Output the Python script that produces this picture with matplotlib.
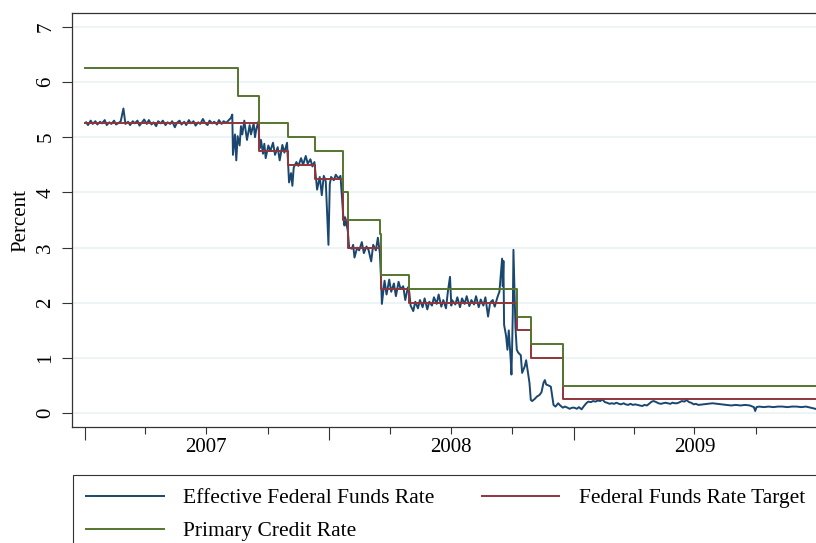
import matplotlib
matplotlib.use('Agg')
import matplotlib.pyplot as plt
from matplotlib.patches import Rectangle
import pandas as pd

plt.rcParams['font.family'] = ['Liberation Serif', 'DejaVu Serif']

# Federal funds rate target (upper bound of the range after Dec 2008)
target_dates = ['2007-01-01', '2007-09-18', '2007-10-31', '2007-12-11', '2008-01-22', '2008-01-30',
                '2008-03-18', '2008-04-30', '2008-10-08', '2008-10-29', '2008-12-16']
target_rate = [5.25, 4.75, 4.50, 4.25, 3.50, 3.00, 2.25, 2.00, 1.50, 1.00, 0.25]

# Primary credit (discount window) rate
pcr_dates = ['2007-01-01', '2007-08-17', '2007-09-18', '2007-10-31', '2007-12-11', '2008-01-22',
             '2008-01-30', '2008-03-17', '2008-03-18', '2008-04-30', '2008-10-08', '2008-10-29',
             '2008-12-16']
pcr_rate = [6.25, 5.75, 5.25, 5.00, 4.75, 4.00, 3.50, 3.25, 2.50, 2.25, 1.75, 1.25, 0.50]

end_date = '2009-12-31'

# Effective federal funds rate (day of month + value for each month)
eff_months = ['2007-01', '2007-02', '2007-03', '2007-04', '2007-05', '2007-06',
              '2007-07', '2007-08', '2007-09', '2007-10', '2007-11', '2007-12',
              '2008-01', '2008-02', '2008-03', '2008-04', '2008-05', '2008-06',
              '2008-07', '2008-08', '2008-09', '2008-10', '2008-11', '2008-12',
              '2009-01', '2009-02', '2009-03', '2009-04', '2009-05', '2009-06',
              '2009-07', '2009-08', '2009-09', '2009-10', '2009-11', '2009-12']
eff_days = [
    [2, 5, 9, 12, 16, 19, 23, 26, 30],
    [2, 6, 9, 13, 16, 20, 23, 27],
    [2, 6, 9, 13, 16, 20, 23, 27, 30],
    [3, 6, 10, 13, 17, 20, 24, 27],
    [1, 4, 8, 11, 15, 18, 22, 25, 29],
    [1, 5, 8, 12, 15, 19, 22, 26, 29],
    [3, 6, 10, 13, 17, 20, 24, 27, 31],
    [3, 7, 9, 10, 13, 15, 17, 20, 22, 24, 27, 29, 31],
    [4, 6, 10, 12, 14, 17, 19, 21, 24, 26, 28],
    [2, 5, 9, 12, 16, 19, 23, 26, 30],
    [1, 2, 5, 7, 9, 13, 16, 20, 23, 27, 30],
    [4, 7, 10, 12, 14, 18, 21, 24, 27, 31],
    [2, 4, 8, 11, 15, 18, 22, 24, 25, 29, 31],
    [4, 6, 8, 12, 15, 19, 22, 26, 29],
    [4, 7, 11, 14, 17, 19, 20, 24, 27, 31],
    [3, 7, 10, 14, 17, 21, 24, 28, 30],
    [2, 6, 9, 13, 16, 20, 23, 27, 30],
    [3, 6, 10, 13, 17, 20, 24, 27, 30],
    [2, 3, 8, 11, 15, 18, 22, 25, 29],
    [1, 5, 8, 12, 15, 19, 22, 26, 29],
    [2, 5, 9, 12, 15, 16, 17, 18, 19, 22, 24, 26, 29, 30],
    [1, 2, 3, 6, 8, 10, 14, 16, 20, 22, 24, 27, 29, 31],
    [4, 7, 11, 14, 17, 19, 21, 25, 28],
    [2, 5, 9, 12, 16, 19, 23, 26, 30],
    [2, 6, 9, 13, 16, 20, 23, 27, 30],
    [3, 6, 10, 13, 17, 20, 24, 27],
    [3, 6, 10, 13, 17, 20, 24, 27, 31],
    [3, 7, 10, 14, 17, 21, 24, 28],
    [1, 5, 8, 12, 15, 19, 22, 26, 29],
    [2, 5, 9, 12, 16, 19, 23, 26, 30],
    [3, 7, 14, 21, 28],
    [4, 11, 18, 25],
    [1, 8, 15, 22, 28, 30],
    [2, 6, 13, 20, 27],
    [3, 10, 17, 24],
    [1, 8, 15, 22, 29, 31],
]
eff_rate = [
    [5.27, 5.22, 5.30, 5.24, 5.29, 5.23, 5.28, 5.25, 5.31],
    [5.22, 5.27, 5.24, 5.30, 5.23, 5.26, 5.29, 5.52],
    [5.24, 5.28, 5.22, 5.29, 5.25, 5.30, 5.21, 5.27, 5.32],
    [5.24, 5.31, 5.23, 5.27, 5.20, 5.29, 5.25, 5.30],
    [5.22, 5.27, 5.24, 5.29, 5.18, 5.26, 5.30, 5.23, 5.28],
    [5.22, 5.31, 5.25, 5.29, 5.21, 5.27, 5.24, 5.33, 5.26],
    [5.22, 5.30, 5.25, 5.28, 5.23, 5.31, 5.24, 5.29, 5.26],
    [5.30, 5.35, 5.41, 4.68, 5.05, 4.58, 5.02, 4.85, 5.20, 5.05, 5.30, 5.12, 4.95],
    [5.22, 5.05, 5.25, 5.00, 5.15, 5.28, 4.80, 4.95, 4.70, 4.88, 4.62],
    [4.85, 4.75, 4.90, 4.68, 4.82, 4.58, 4.86, 4.72, 4.90],
    [4.40, 4.18, 4.35, 4.12, 4.45, 4.55, 4.48, 4.62, 4.50, 4.66, 4.52],
    [4.60, 4.47, 4.55, 4.30, 4.05, 4.28, 3.95, 4.30, 4.20, 3.05],
    [4.15, 4.28, 4.22, 4.32, 4.25, 4.30, 3.60, 3.40, 3.55, 3.30, 3.00],
    [2.98, 3.05, 2.82, 3.00, 2.95, 3.10, 2.90, 3.02, 2.96],
    [2.75, 3.05, 2.95, 3.18, 2.90, 2.35, 1.98, 2.40, 2.15, 2.42],
    [2.20, 2.35, 2.12, 2.38, 2.25, 2.30, 2.05, 2.28, 2.20],
    [1.95, 1.85, 2.02, 1.90, 2.05, 1.92, 2.08, 1.88, 2.02],
    [1.95, 2.10, 1.98, 2.15, 1.93, 2.05, 1.90, 2.22, 2.47],
    [1.95, 2.05, 1.97, 2.10, 1.92, 2.08, 1.98, 2.12, 1.94],
    [2.05, 1.97, 2.12, 1.92, 2.06, 1.95, 2.10, 1.75, 2.00],
    [2.05, 1.93, 2.10, 2.20, 2.64, 2.80, 2.30, 2.76, 1.60, 1.40, 1.15, 1.50, 0.95, 0.70],
    [1.20, 1.80, 2.96, 1.56, 1.15, 1.10, 1.05, 0.73, 0.85, 0.96, 0.80, 0.55, 0.24, 0.22],
    [0.26, 0.30, 0.33, 0.38, 0.55, 0.60, 0.52, 0.50, 0.48],
    [0.15, 0.12, 0.18, 0.14, 0.10, 0.12, 0.10, 0.08, 0.10],
    [0.10, 0.08, 0.11, 0.07, 0.12, 0.18, 0.21, 0.20, 0.22],
    [0.21, 0.23, 0.22, 0.25, 0.20, 0.19, 0.17, 0.18],
    [0.17, 0.19, 0.17, 0.16, 0.18, 0.16, 0.15, 0.17, 0.15],
    [0.16, 0.15, 0.14, 0.13, 0.15, 0.14, 0.17, 0.21],
    [0.22, 0.20, 0.18, 0.17, 0.18, 0.19, 0.18, 0.17, 0.19],
    [0.18, 0.18, 0.20, 0.22, 0.21, 0.24, 0.20, 0.19, 0.16],
    [0.17, 0.15, 0.16, 0.17, 0.18],
    [0.17, 0.16, 0.15, 0.14],
    [0.15, 0.14, 0.15, 0.14, 0.11, 0.04],
    [0.11, 0.12, 0.11, 0.12, 0.11],
    [0.12, 0.12, 0.11, 0.12],
    [0.12, 0.11, 0.12, 0.10, 0.08, 0.07],
]

year_labels = ['2007', '2008', '2009']


def build_series(months, days, values):
    dates, vals = [], []
    for m, dd, vv in zip(months, days, values):
        assert len(dd) == len(vv), m
        dates += [pd.Timestamp(f'{m}-{d:02d}') for d in dd]
        vals += vv
    return dates, vals


def step_series(dates, rates):
    # extend the last level to the end of the sample
    x = pd.to_datetime(dates + [end_date])
    y = rates + [rates[-1]]
    return x, y


eff_x, eff_y = build_series(eff_months, eff_days, eff_rate)
tgt_x, tgt_y = step_series(target_dates, target_rate)
pcr_x, pcr_y = step_series(pcr_dates, pcr_rate)

fig = plt.figure(figsize=(8.16, 5.43), dpi=100)
ax = fig.add_axes([72 / 816, 116 / 543, 758 / 816, 414 / 543])

l_eff, = ax.plot(eff_x, eff_y, color='#1a476f', lw=1.4, zorder=2)
l_tgt, = ax.step(tgt_x, tgt_y, where='post', color='#90353b', lw=1.4, zorder=3)
l_pcr, = ax.step(pcr_x, pcr_y, where='post', color='#55752f', lw=1.4, zorder=3)

ax.set_xlim(pd.Timestamp('2006-12-12'), pd.Timestamp('2010-01-20'))
ax.set_ylim(-0.25, 7.25)

# y axis
ax.set_yticks(range(8))
ax.yaxis.grid(True, color='#eaf2f3', lw=1.2)
ax.set_axisbelow(True)
ax.tick_params(axis='y', length=7, width=0.8, color='#333333', labelsize=15, labelrotation=90, pad=5)
for lab in ax.get_yticklabels():
    lab.set_va('center')
ax.set_ylabel('Percent', fontsize=15)
ax.yaxis.set_label_coords(-0.055, 0.5)

# x axis: long ticks at year starts, short ticks at quarters, year label mid-year
year_starts = pd.to_datetime(['2007-01-01', '2008-01-01', '2009-01-01', '2010-01-01'])
quarters = pd.to_datetime([f'{y}-{m}-01' for y in year_labels for m in ('04', '07', '10')])
ax.set_xticks(year_starts)
ax.set_xticklabels([''] * len(year_starts))
ax.set_xticks(quarters, minor=True)
ax.set_xticklabels([lab if q.month == 7 else '' for q, lab in
                    zip(quarters, [y for y in year_labels for _ in range(3)])], minor=True)
ax.tick_params(axis='x', which='major', length=9.5, width=0.8, color='#333333')
ax.tick_params(axis='x', which='minor', length=5, width=0.8, color='#333333', labelsize=15, pad=3)

for side in ['left', 'top', 'bottom']:
    ax.spines[side].set_color('#333333')
    ax.spines[side].set_linewidth(0.9)
ax.spines['right'].set_visible(False)

# legend box runs past the right and bottom edge of the figure
leg_top = 1 - 475 / 543
fig.patches.append(Rectangle((73 / 816, -0.2), 2, leg_top + 0.2, transform=fig.transFigure,
                             fill=False, edgecolor='#333333', lw=0.8))
leg = fig.legend([l_eff, l_pcr, l_tgt],
                 ['Effective Federal Funds Rate', 'Primary Credit Rate', 'Federal Funds Rate Target'],
                 loc='upper left', bbox_to_anchor=(73 / 816, leg_top), ncol=2,
                 frameon=False, fontsize=15.5,
                 handlelength=3.6, handletextpad=0.9, columnspacing=2.2,
                 borderpad=0.62, labelspacing=0.6, borderaxespad=0)

fig.savefig('out.png', dpi=100)
